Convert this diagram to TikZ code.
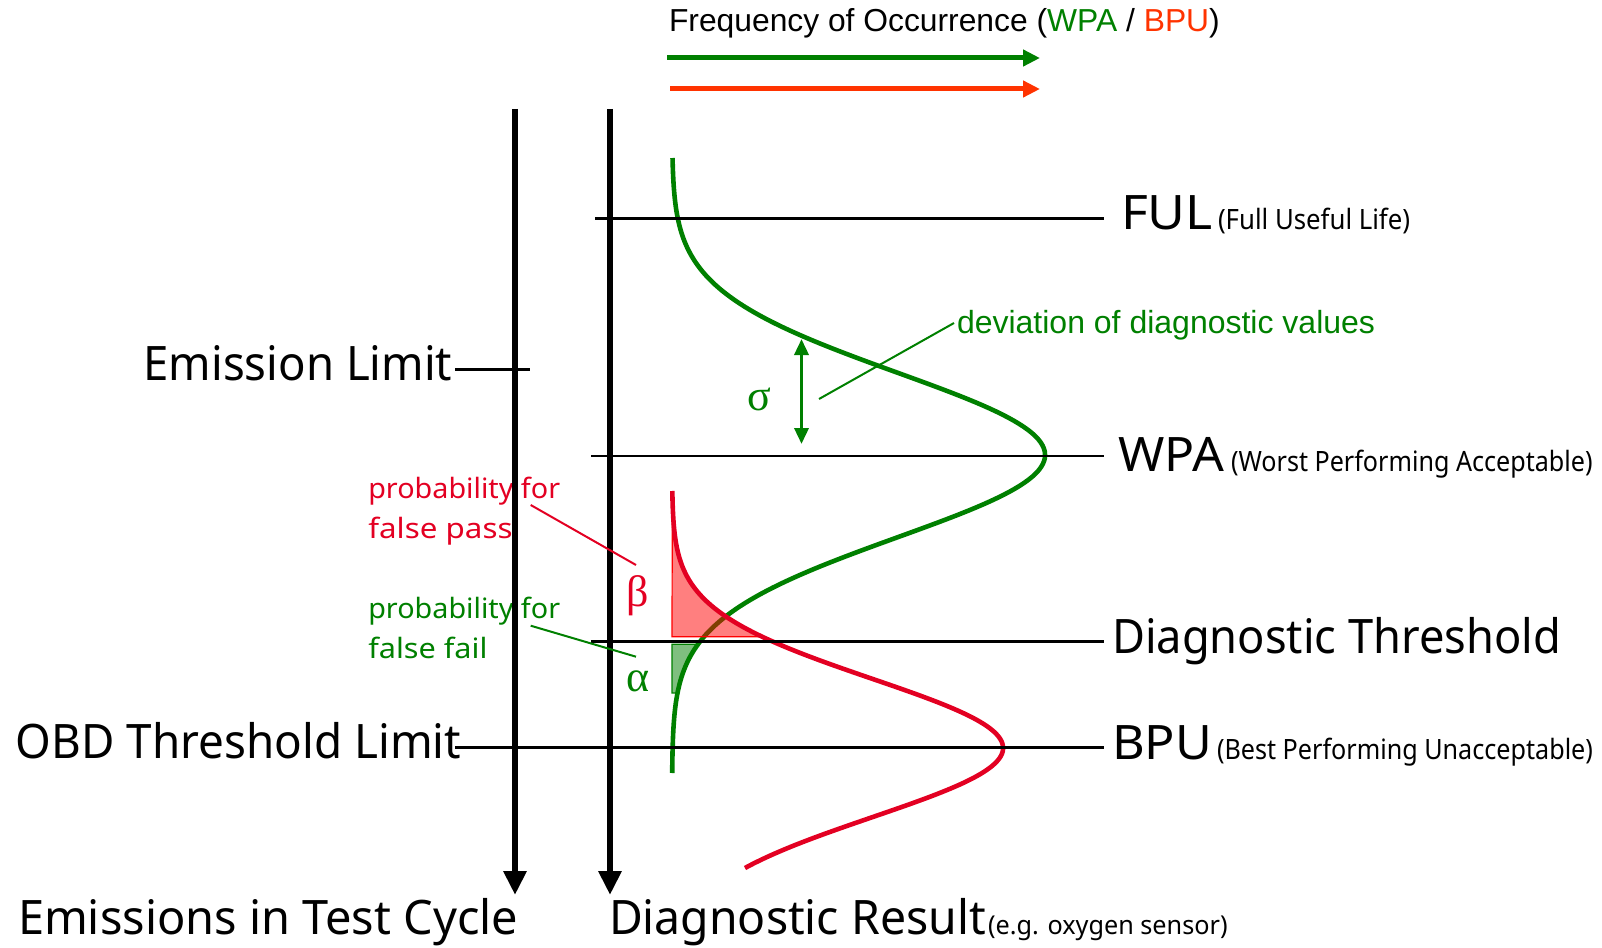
\documentclass[tikz,border=0pt]{standalone}
\usepackage{graphicx}
\usepackage{fontspec}
\setmainfont{Noto Sans}
\newfontfamily\arialf{Liberation Sans}
\newfontfamily\greekf{Liberation Serif}
\usetikzlibrary{arrows.meta}
\definecolor{dgreen}{RGB}{0,128,0}
\definecolor{dred}{RGB}{227,0,34}
\definecolor{ored}{RGB}{255,51,0}
\newcommand\setfs[1]{\fontsize{#1}{#1}\selectfont}
% horizontal-only scaling of a text run
\newcommand\hs[2]{\scalebox{#1}[1]{#2}}

\begin{document}
\begin{tikzpicture}[x=1pt,y=-1pt,
  lbl/.style={inner sep=0pt, outer sep=0pt, anchor=base west},
  biglbl/.style={lbl, font=\setfs{47.5}},
  sublbl/.style={lbl, font=\setfs{28}},
  problbl/.style={lbl, font=\setfs{28}},
  greeklbl/.style={inner sep=0pt, outer sep=0pt, anchor=center, font=\greekf\setfs{44}},
  axis/.style={line width=6.7pt, -{Triangle[width=22pt,length=24pt]}},
  level/.style={line width=2.7pt},
  freqarrow/.style={line width=5pt, -{Triangle[width=16pt,length=17pt]}},
  curve/.style={line width=4.6pt},
  leader/.style={line width=2pt},
]
\useasboundingbox (0,0) rectangle (1602,947);

% ---------- frequency header ----------
\node[lbl, font=\arialf\setfs{31.8}] (title) at (669,32)
  {Frequency of Occurrence (\textcolor{dgreen}{WPA} / \textcolor{ored}{BPU})};
\coordinate (gS) at (667,58);  \coordinate (gE) at (1040,58);
\coordinate (rS) at (670,89);  \coordinate (rE) at (1040,89);
\draw[freqarrow, dgreen] (gS) -- (gE);
\draw[freqarrow, ored] (rS) -- (rE);

% ---------- left labels ----------
\node[biglbl] (emis) at (143.6,380) {\hs{0.958}{Emission Limit}};
\node[biglbl] (obd) at (16,758.3) {\hs{0.964}{OBD Threshold Limit}};
\node[biglbl] (etc) at (18,934) {\hs{0.988}{Emissions in Test Cycle}};
\node[problbl, text=dred] (pfp1) at (368.3,498.3) {\hs{1.027}{probability for}};
\node[problbl, text=dred] (pfp2) at (368.3,538.3) {\hs{1.12}{false pass}};
\node[problbl, text=dgreen] (pff1) at (368.3,618.3) {\hs{1.027}{probability for}};
\node[problbl, text=dgreen] (pff2) at (368.3,658.3) {\hs{1.095}{false fail}};

% ---------- right labels ----------
\node[biglbl] (ful) at (1121,229.3) {\hs{1.09}{FUL}};
\node[sublbl] (fulsub) at (1218,229.3) {\hs{0.92}{(Full Useful Life)}};
\node[biglbl] (wpa) at (1118,471) {\hs{1.05}{WPA}};
\node[sublbl] (wpasub) at (1231,471) {\hs{0.897}{(Worst Performing Acceptable)}};
\node[biglbl] (thr) at (1112,653) {\hs{0.952}{Diagnostic Threshold}};
\node[biglbl] (bpu) at (1112,759) {\hs{1.06}{BPU}};
\node[sublbl] (bpusub) at (1217,759) {\hs{0.898}{(Best Performing Unacceptable)}};
\node[biglbl] (dres) at (609,934) {\hs{0.976}{Diagnostic Result}};
\node[lbl, font=\setfs{26}] (dressub) at (988,934) {\hs{0.97}{(e.g. oxygen sensor)}};
\node[lbl, font=\arialf\setfs{32}, text=dgreen] (dev) at (957,333) {deviation of diagnostic values};

% ---------- greek symbols ----------
\node[greeklbl, text=dgreen] (sigma) at (759,399) {σ};
\node[greeklbl, text=dred] (beta) at (638,596) {β};
\node[greeklbl, text=dgreen] (alpha) at (638,681) {α};

% ---------- distributions ----------
% false fail area (below threshold, under the WPA curve)
\filldraw[dgreen, fill opacity=0.5, line width=1.2pt]
  (672,644.3) -- plot[domain=644.3:693, samples=30, variable=\t]
  ({672+373*exp(-((\t-455)/82)^2/2)}, \t) -- (672,693) -- cycle;
% WPA distribution
\draw[curve, dgreen] plot[domain=158:773, samples=200, variable=\t]
  ({672+373*exp(-((\t-455)/82)^2/2)}, \t);
% false pass area (above threshold, under the BPU curve)
\filldraw[red, fill opacity=0.5, line width=1.2pt]
  plot[domain=491:636.7, samples=60, variable=\t]
  ({672+331*exp(-((\t-748)/69)^2/2)}, \t) -- (672,636.7) -- cycle;
% BPU distribution
\draw[curve, dred] plot[domain=491:868, samples=200, variable=\t]
  ({672+331*exp(-((\t-748)/69)^2/2)}, \t);

% ---------- axes ----------
\coordinate (a1top) at (515,109); \coordinate (a1tip) at (515,895);
\coordinate (a2top) at (610,109); \coordinate (a2tip) at (610,895);
\draw[axis] (a1top) -- (a1tip);
\draw[axis] (a2top) -- (a2tip);

% ---------- levels ----------
\coordinate (fulL) at (595,218.3);  \coordinate (fulR) at (1104,218.3);
\coordinate (wpaL) at (591,456);    \coordinate (wpaR) at (1104,456);
\coordinate (thrL) at (591,641.7);  \coordinate (thrR) at (1104,641.7);
\coordinate (obdL) at (455,747.5);  \coordinate (obdR) at (1104,747.5);
\coordinate (emL) at (455,369.3);   \coordinate (emR) at (530,369.3);
\draw[level] (fulL) -- (fulR);
\draw[level] (wpaL) -- (wpaR);
\draw[level] (thrL) -- (thrR);
\draw[level] (obdL) -- (obdR);
\draw[level] (emL) -- (emR);

% ---------- sigma marker and leaders ----------
\coordinate (sgT) at (801.5,339); \coordinate (sgB) at (801.5,444);
\draw[line width=3.5pt, dgreen, {Triangle[width=14pt,length=16pt]}-{Triangle[width=14pt,length=16pt]}] (sgT) -- (sgB);
\coordinate (devA) at (954,323); \coordinate (devB) at (819,399);
\draw[leader, dgreen] (devA) -- (devB);
\coordinate (pfpA) at (530.7,505); \coordinate (pfpB) at (636,565);
\draw[leader, dred] (pfpA) -- (pfpB);
\coordinate (pffA) at (530.7,625.7); \coordinate (pffB) at (636,656.7);
\draw[leader, dgreen] (pffA) -- (pffB);
\end{tikzpicture}
\end{document}
